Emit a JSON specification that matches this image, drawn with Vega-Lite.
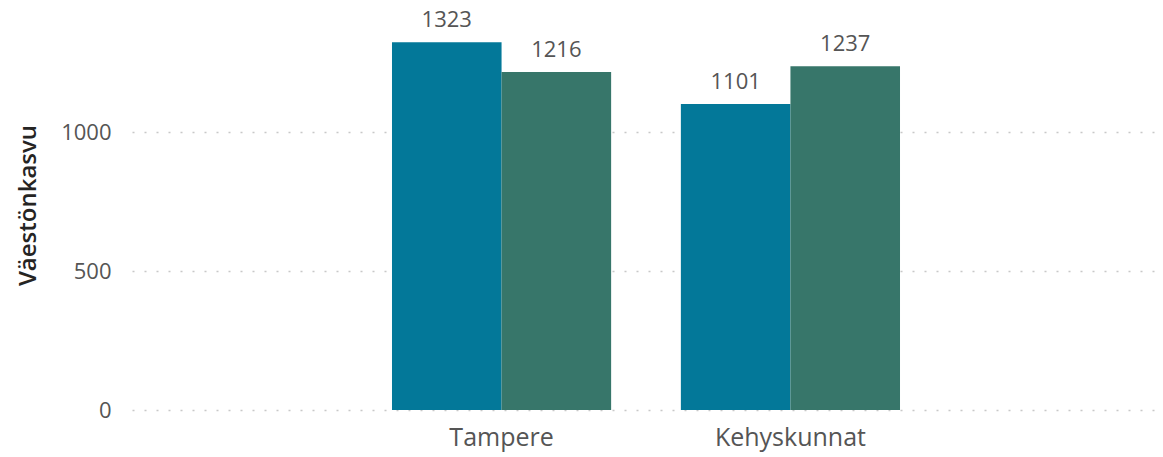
{
  "$schema": "https://vega.github.io/schema/vega-lite/v6.json",
  "width": 1028,
  "height": 410,
  "autosize": {"type": "none"},
  "padding": {"left": 132, "top": 0, "right": 3, "bottom": 47},
  "background": "white",
  "config": {
    "font": "Open Sans",
    "view": {"stroke": null}
  },
  "data": {
    "values": [
      {"alue": "Tampere", "sarja": "Sarja 1", "kasvu": 1323},
      {"alue": "Tampere", "sarja": "Sarja 2", "kasvu": 1216},
      {"alue": "Kehyskunnat", "sarja": "Sarja 1", "kasvu": 1101},
      {"alue": "Kehyskunnat", "sarja": "Sarja 2", "kasvu": 1237}
    ]
  },
  "encoding": {
    "x": {
      "field": "alue",
      "type": "nominal",
      "sort": ["Tampere", "Kehyskunnat"],
      "scale": {"paddingInner": 0.2414, "paddingOuter": 0.9},
      "axis": {
        "title": null,
        "domain": false,
        "ticks": false,
        "labelAngle": 0,
        "labelFontSize": 25,
        "labelColor": "#555555",
        "labelPadding": 15
      }
    },
    "xOffset": {
      "field": "sarja",
      "type": "nominal",
      "scale": {"paddingInner": 0, "paddingOuter": 0}
    },
    "y": {
      "field": "kasvu",
      "type": "quantitative",
      "scale": {"domain": [0, 1475], "nice": false},
      "axis": {
        "title": "Väestönkasvu",
        "titleFontSize": 24,
        "titleFontWeight": 600,
        "titleColor": "#252423",
        "titlePadding": 20,
        "values": [0, 500, 1000],
        "format": "d",
        "domain": false,
        "ticks": false,
        "labelFontSize": 22,
        "labelColor": "#555555",
        "labelPadding": 21,
        "grid": true,
        "gridDash": [2, 10],
        "gridColor": "#c8c8c8",
        "gridWidth": 1.5
      }
    }
  },
  "layer": [
    {
      "mark": {"type": "bar"},
      "encoding": {
        "color": {
          "field": "sarja",
          "type": "nominal",
          "scale": {"domain": ["Sarja 1", "Sarja 2"], "range": ["#037899", "#37766A"]},
          "legend": null
        }
      }
    },
    {
      "mark": {"type": "text", "baseline": "alphabetic", "dy": -15, "fontSize": 22, "color": "#555555"},
      "encoding": {
        "text": {"field": "kasvu", "type": "quantitative"}
      }
    }
  ]
}
